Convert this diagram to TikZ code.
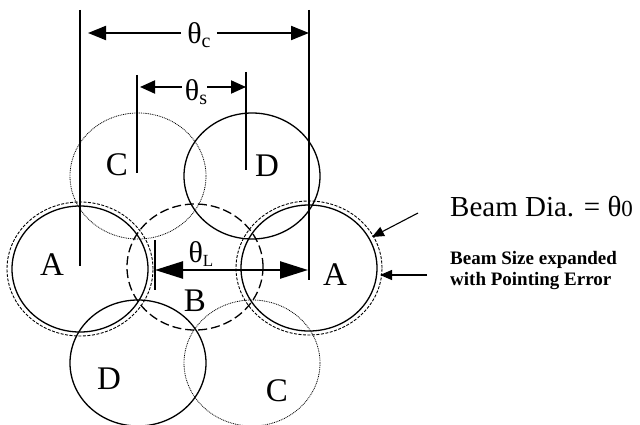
\documentclass[tikz,border=0pt]{standalone}
\usepackage{fontspec}
\setmainfont{Liberation Serif}
\usetikzlibrary{shapes.geometric,arrows.meta}
\newcommand{\thetasub}[2]{{\fontsize{30}{30}\selectfont θ}\raisebox{-4pt}{\fontsize{#2}{#2}\selectfont #1}}
\begin{document}
\begin{tikzpicture}[x=1pt,y=-1pt,
  beam/.style={ellipse, inner sep=0pt, outer sep=0pt, minimum width=136pt, minimum height=126pt, line width=1.3pt},
  solidbeam/.style={beam, draw},
  dottedbeam/.style={beam, draw, line width=0.8pt, dash pattern=on 0.9pt off 0.9pt},
  longdash/.style={beam, draw, dash pattern=on 9pt off 4pt},
  ring/.style={beam, draw, line width=0.9pt, dash pattern=on 3pt off 1.5pt, minimum width=146pt, minimum height=134pt},
  lbl/.style={font=\fontsize{33}{33}\selectfont, inner sep=0pt},
  thlbl/.style={inner sep=0pt},
  dim/.style={line width=2pt, -{Triangle[length=18pt,width=14pt]}},
  dimsmall/.style={line width=2pt, -{Triangle[length=15pt,width=13pt]}},
  dimL/.style={line width=2.4pt, {Triangle[length=28pt,width=17pt]}-{Triangle[length=28pt,width=17pt]}},
  pointer/.style={line width=1.1pt, -{Triangle[length=12pt,width=10pt]}},
  guide/.style={line width=1.1pt},
]
\useasboundingbox (0,0) rectangle (640,425);
% beams
\node[dottedbeam] (Ctop) at (138,176) {};
\node[solidbeam] (Dtop) at (252,176) {};
\node[longdash] (B) at (195,267) {};
\node[solidbeam] (Aleft) at (80,269) {};
\node[ring] (AleftRing) at (80,269) {};
\node[solidbeam] (Aright) at (309,268) {};
\node[ring] (ArightRing) at (309,268) {};
\node[solidbeam] (Dbot) at (138,363) {};
\node[dottedbeam] (Cbot) at (252,363) {};
% beam labels
\node[lbl] (lAleft) at (52,265) {A};
\node[lbl] (lAright) at (335,275) {A};
\node[lbl] (lB) at (195,301) {B};
\node[lbl] (lCtop) at (117,165) {C};
\node[lbl] (lDtop) at (267,166) {D};
\node[lbl] (lDbot) at (109,379) {D};
\node[lbl] (lCbot) at (277,391) {C};
% guide lines
\coordinate (gLt) at (80,10);
\coordinate (gLb) at (80,266);
\coordinate (gRt) at (309,10);
\coordinate (gRb) at (309,280);
\draw[guide] (gLt) -- (gLb);
\draw[guide] (gRt) -- (gRb);
\coordinate (sLt) at (137,75);
\coordinate (sLb) at (137,173);
\coordinate (sRt) at (246,72);
\coordinate (sRb) at (246,170);
\draw[guide] (sLt) -- (sLb);
\draw[guide] (sRt) -- (sRb);
\coordinate (lbt) at (155,240);
\coordinate (lbb) at (155,290);
\draw[line width=1.5pt] (lbt) -- (lbb);
% theta_c
\node[thlbl] (thc) at (199,35) {\thetasub{c}{20}};
\coordinate (thcL) at (88,33);
\coordinate (thcR) at (309,33);
\draw[dim] (thc.west |- thcL) ++(-6,0) -- (thcL);
\draw[dim] (thc.east |- thcR) ++(6,0) -- (thcR);
% theta_s
\node[thlbl] (ths) at (196,92) {\thetasub{s}{20}};
\coordinate (thsL) at (140,87);
\coordinate (thsR) at (246,87);
\draw[dimsmall] (ths.west |- thsL) ++(-3,0) -- (thsL);
\draw[dimsmall] (ths.east |- thsR) -- (thsR);
% theta_L
\node[thlbl] (thL) at (201,254) {\thetasub{L}{17}};
\coordinate (thLL) at (155,270);
\coordinate (thLR) at (308,270);
\draw[dimL] (thLL) -- (thLR);
% right side annotations
\node[inner sep=0pt, anchor=base west, font=\fontsize{29}{29}\selectfont] (dia) at (450,216) {Beam Dia. = θ{\fontsize{23}{23}\selectfont 0}};
\node[inner sep=0pt, anchor=base west, align=left, font=\bfseries\fontsize{19}{21}\selectfont] (size) at (450,285) {Beam Size expanded\\with Pointing Error};
\coordinate (p1s) at (418,213);
\coordinate (p1e) at (372,237);
\draw[pointer] (p1s) -- (p1e);
\coordinate (p2s) at (427,275);
\coordinate (p2e) at (380,275);
\draw[pointer] (p2s) -- (p2e);
\end{tikzpicture}
\end{document}
